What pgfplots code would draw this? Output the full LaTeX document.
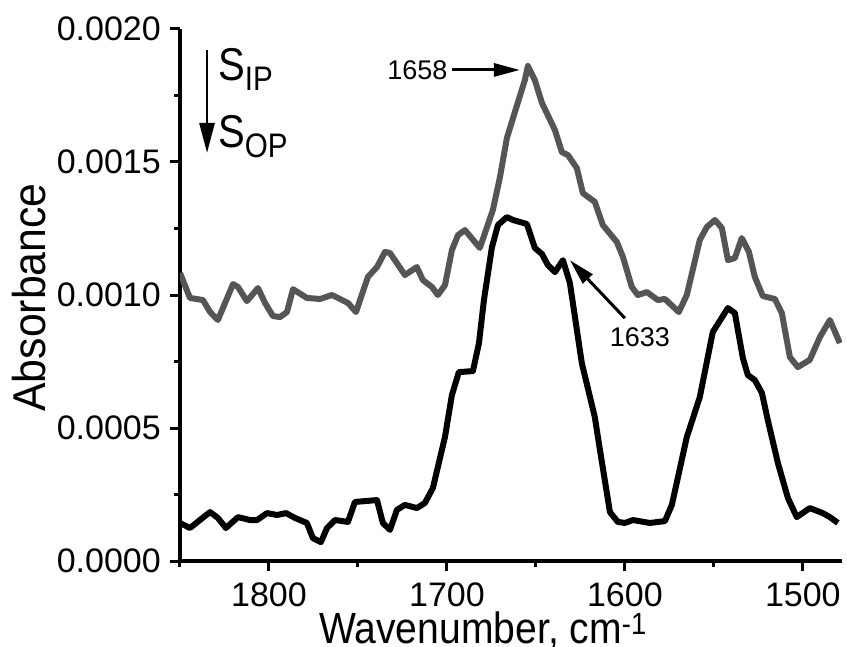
\documentclass[border=0pt]{standalone}
\usepackage{pgfplots}
\pgfplotsset{compat=1.18}
\usepackage{fontspec}
\setmainfont{Liberation Sans}
\usetikzlibrary{arrows.meta}
\definecolor{grayline}{RGB}{85,85,85}
\begin{document}
\begin{tikzpicture}
\useasboundingbox (-180pt,-85pt) rectangle (667pt,561pt);
\begin{axis}[
  at={(0pt,0pt)}, anchor=south west,
  scale only axis, width=662pt, height=532pt,
  xmin=1478, xmax=1850, ymin=0, ymax=0.002,
  x dir=reverse,
  axis x line=bottom, axis y line=left,
  axis line style={-, line width=3.3pt},
  tick align=outside,
  major tick length=10pt, minor tick length=5.5pt,
  every tick/.style={black, line width=3pt},
  xtick={1500,1600,1700,1800}, xticklabels={1500,1600,1700,1800},
  minor xtick={1550,1650,1750,1850},
  ytick={0,0.0005,0.001,0.0015,0.002},
  yticklabels={0.0000,0.0005,0.0010,0.0015,0.0020},
  minor ytick={0.00025,0.00075,0.00125,0.00175},
  scaled y ticks=false,
  tick label style={font=\fontsize{34}{34}\selectfont, inner sep=3pt},
  xticklabel style={yshift=-9pt},
  yticklabel style={xshift=-6pt},
  xlabel={\scalebox{0.85}[0.95]{\fontsize{46}{46}\selectfont Wavenumber, cm\textsuperscript{-1}}},
  ylabel={\scalebox{0.93}[1]{\fontsize{46}{46}\selectfont Absorbance}},
  xlabel style={at={(axis description cs:0.21,-0.1542)}, anchor=base west, inner sep=0pt},
  ylabel style={at={(axis description cs:-0.2273,0.4953)}, anchor=center, inner sep=0pt},
]
\addplot[grayline, line width=6pt, line join=round] coordinates {
(1850,0.001083) (1844.4,0.000989) (1837.1,0.000981) (1833.1,0.000936) (1828.7,0.000906)
(1820.2,0.001041) (1817.4,0.001030) (1812.4,0.000977) (1806.2,0.001026) (1802.2,0.000970)
(1797.8,0.000921) (1793.8,0.000917) (1789.9,0.000936) (1786.5,0.001022) (1778.7,0.000989)
(1771.3,0.000985) (1764.6,0.001000) (1755.6,0.000970) (1751.1,0.000936) (1744.4,0.001068)
(1739.3,0.001105) (1734.8,0.001162) (1732.0,0.001158) (1723.6,0.001075) (1716.9,0.001105)
(1713.5,0.001056) (1708.4,0.001030) (1705.1,0.001000) (1701.1,0.001037) (1697.2,0.001169)
(1693.8,0.001225) (1689.9,0.001244) (1681.5,0.001177) (1674.2,0.001319) (1670.2,0.001443)
(1666.3,0.001590) (1661.8,0.001688) (1656.2,0.001808) (1654.5,0.001861) (1650.6,0.001808)
(1646.6,0.001722) (1639.3,0.001620) (1635.4,0.001537) (1632.0,0.001526) (1627.0,0.001477)
(1623.6,0.001383) (1616.9,0.001350) (1612.4,0.001263) (1604.5,0.001199) (1601.1,0.001143)
(1596.1,0.001030) (1592.7,0.001000) (1587.6,0.001011) (1581.5,0.000981) (1577.5,0.000985)
(1569.7,0.000936) (1565.2,0.001000) (1557.9,0.001207) (1553.9,0.001256) (1549.4,0.001282)
(1545.5,0.001252) (1542.1,0.001131) (1538.2,0.001139) (1534.3,0.001214) (1530.3,0.001162)
(1527.0,0.001068) (1522.5,0.000996) (1515.7,0.000985) (1511.8,0.000932) (1507.3,0.000767)
(1502.8,0.000729) (1496.1,0.000756) (1490.4,0.000842) (1484.8,0.000906) (1479.2,0.000819)
};
\addplot[black, line width=6pt, line join=round] coordinates {
(1850,0.000143) (1844.4,0.000124) (1838.8,0.000154) (1833.1,0.000184) (1828.7,0.000162)
(1824.2,0.000124) (1817.4,0.000165) (1810.7,0.000154) (1806.7,0.000154) (1801.1,0.000180)
(1795.5,0.000173) (1790.4,0.000180) (1785.4,0.000162) (1778.7,0.000143) (1775.3,0.000086)
(1770.8,0.000071) (1767.4,0.000124) (1762.9,0.000154) (1755.6,0.000147) (1751.7,0.000222)
(1739.3,0.000229) (1736.0,0.000143) (1732.0,0.000117) (1728.1,0.000192) (1723.6,0.000211)
(1716.9,0.000199) (1712.4,0.000218) (1707.9,0.000274) (1701.1,0.000466) (1697.2,0.000624)
(1693.3,0.000710) (1685.4,0.000714) (1682.0,0.000819) (1679.2,0.000981) (1674.7,0.001180)
(1671.3,0.001263) (1666.3,0.001293) (1662.9,0.001282) (1655.1,0.001267) (1650.6,0.001177)
(1646.6,0.001154) (1643.3,0.001113) (1639.3,0.001086) (1634.8,0.001131) (1630.9,0.001045)
(1624.2,0.000744) (1616.9,0.000541) (1614.0,0.000417) (1608.4,0.000184) (1604.0,0.000147)
(1600.0,0.000143) (1595.5,0.000154) (1586.0,0.000143) (1577.5,0.000150) (1573.6,0.000211)
(1565.2,0.000466) (1557.9,0.000616) (1550.6,0.000861) (1542.1,0.000951) (1538.2,0.000932)
(1533.7,0.000763) (1530.9,0.000699) (1527.0,0.000680) (1523.0,0.000632) (1519.7,0.000530)
(1514.0,0.000368) (1508.4,0.000237) (1503.4,0.000165) (1496.1,0.000199) (1488.8,0.000180)
(1484.8,0.000165) (1480.3,0.000143)
};
% annotations
\draw[line width=3pt, -{Triangle[length=26pt,width=13pt]}] (axis cs:1697.2,0.001846) -- (axis cs:1659.0,0.001846);
\node[anchor=east, inner sep=2pt, font=\fontsize{27}{27}\selectfont] at (axis cs:1698.5,0.001846) {1658};
\draw[line width=3pt, -{Triangle[length=26pt,width=13pt]}] (axis cs:1600.0,0.000913) -- (axis cs:1630.9,0.001131);
\node[font=\fontsize{27}{27}\selectfont] at (axis cs:1591.6,0.000842) {1633};
\draw[line width=2.7pt, -{Triangle[length=30pt,width=15pt]}] (axis cs:1834.8,0.001921) -- (axis cs:1834.8,0.001534);
\node[anchor=base west, inner sep=0pt] at (axis cs:1828.7,0.001808)
  {\scalebox{0.87}[1]{\fontsize{46}{46}\selectfont S\raisebox{-10pt}{\fontsize{34}{34}\selectfont IP}}};
\node[anchor=base west, inner sep=0pt] at (axis cs:1828.7,0.001556)
  {\scalebox{0.87}[1]{\fontsize{46}{46}\selectfont S\raisebox{-10pt}{\fontsize{34}{34}\selectfont OP}}};
\end{axis}
\end{tikzpicture}
\end{document}
